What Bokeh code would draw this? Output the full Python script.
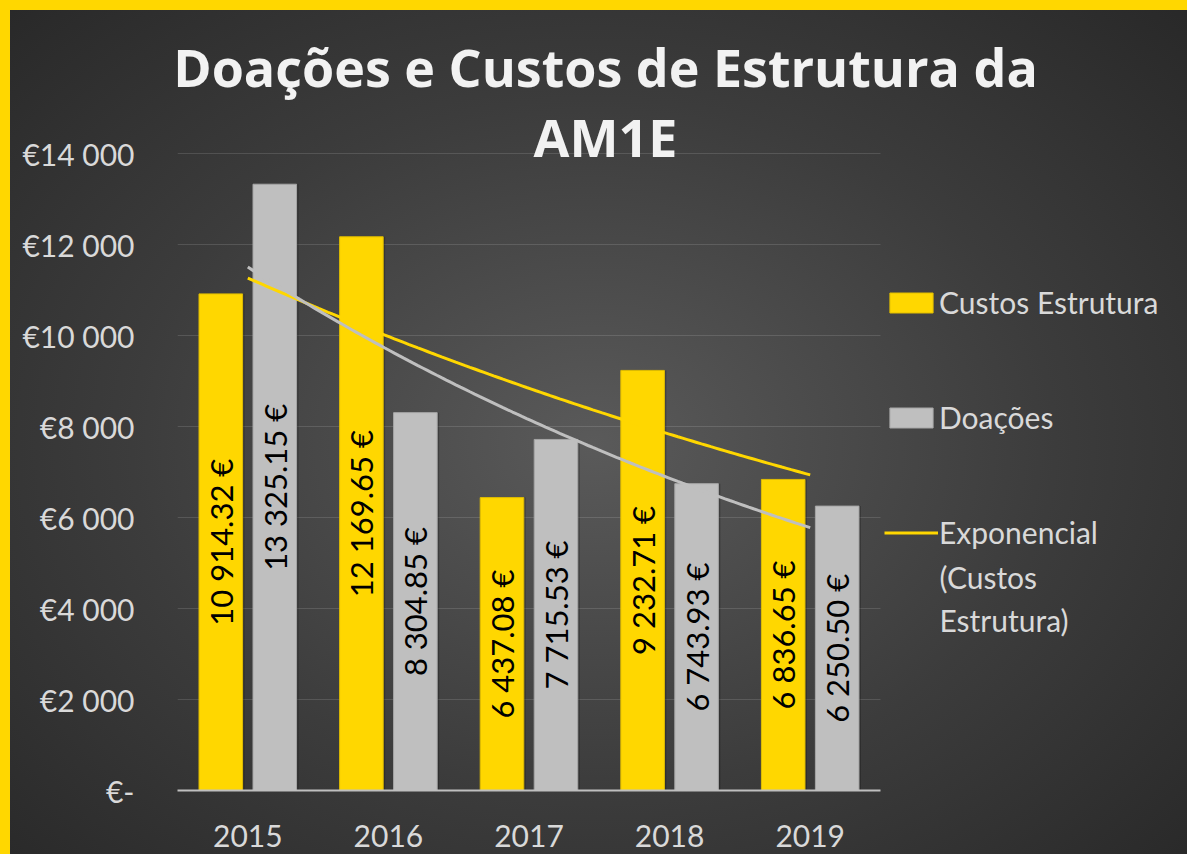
import numpy as np
from bokeh.plotting import figure
from bokeh.models import Range1d, Legend, LegendItem, Label, ColumnDataSource, FixedTicker
from bokeh.transform import dodge
from bokeh.embed import file_html
from bokeh.resources import INLINE
from bokeh.core.properties import value

# ---- data ----
years = ["2015", "2016", "2017", "2018", "2019"]
custos = [10914.32, 12169.65, 6437.08, 9232.71, 6836.65]
doacoes = [13325.15, 8304.85, 7715.53, 6743.93, 6250.50]
custos_labels = ["10 914.32 €", "12 169.65 €", "6 437.08 €", "9 232.71 €", "6 836.65 €"]
doacoes_labels = ["13 325.15 €", "8 304.85 €", "7 715.53 €", "6 743.93 €", "6 250.50 €"]
y_ticks = [0, 2000, 4000, 6000, 8000, 10000, 12000, 14000]
y_tick_labels = ["€-", "€2 000", "€4 000", "€6 000", "€8 000", "€10 000", "€12 000", "€14 000"]
title_lines = ["Doações e Custos de Estrutura da", "AM1E"]

YELLOW = "#FFD700"
GREY = "#BFBFBF"
TXT = "#D9D9D9"
FONT = "Lato"

# ---- layout (pixels) ----
W, H = 1187, 854
LEFT, PLOT_RIGHT, PLOT_TOP, BOTTOM = 177, 880, 153, 790
YMAX = 14000
n = len(years)

xpos = np.arange(1, n + 1)
off = 0.192
bw = 0.31

src = ColumnDataSource(dict(
    xc=xpos - off, xd=xpos + off,
    custos=custos, doacoes=doacoes,
    custos_mid=[v / 2 for v in custos], doacoes_mid=[v / 2 for v in doacoes],
    cl=custos_labels, dl=doacoes_labels,
))

# exponential trendlines (least squares on log values, as a spreadsheet does)
xt = np.linspace(1, n, 120)
bc = np.polyfit(xpos, np.log(custos), 1)
bd = np.polyfit(xpos, np.log(doacoes), 1)
trend_c = np.exp(np.polyval(bc, xt))
trend_d = np.exp(np.polyval(bd, xt))

# the frame spans the chart's plot area plus the title and legend areas
px_per_cat = (PLOT_RIGHT - LEFT) / n
x_end = 0.5 + (W - LEFT) / px_per_cat
y_end = YMAX * BOTTOM / (BOTTOM - PLOT_TOP)

p = figure(width=W, height=H, output_backend="svg", toolbar_location=None,
           x_range=Range1d(0.5, x_end), y_range=Range1d(0, y_end),
           min_border_left=LEFT, min_border_right=0,
           min_border_top=0, min_border_bottom=H - BOTTOM)
p.styles = {
    "background": "radial-gradient(ellipse farthest-corner at 50% 52%, #5a5a5a 0%, #3c3c3c 55%, #282828 100%)",
    "box-shadow": "inset 10px 10px 0 0 " + YELLOW,
}
p.background_fill_alpha = 0
p.border_fill_alpha = 0
p.outline_line_color = None
p.grid.grid_line_color = None

# gridlines limited to the plot area
p.segment(x0=0.5, x1=n + 0.5, y0=y_ticks[1:], y1=y_ticks[1:],
          line_color="white", line_alpha=0.13, line_width=1)

# axes
p.yaxis.ticker = FixedTicker(ticks=y_ticks)
p.yaxis.major_label_overrides = {t: l for t, l in zip(y_ticks, y_tick_labels)}
p.yaxis.axis_line_color = None
p.yaxis.major_tick_line_color = None
p.yaxis.minor_tick_line_color = None
p.yaxis.major_label_standoff = 37
p.yaxis.major_label_text_color = TXT
p.yaxis.major_label_text_font = FONT
p.yaxis.major_label_text_font_size = "30px"

p.xaxis.ticker = FixedTicker(ticks=list(xpos))
p.xaxis.major_label_overrides = {int(i): y for i, y in zip(xpos, years)}
p.xaxis.bounds = (0.5, n + 0.5)
p.xaxis.axis_line_color = "#BFBFBF"
p.xaxis.axis_line_width = 2
p.xaxis.major_tick_line_color = None
p.xaxis.minor_tick_line_color = None
p.xaxis.major_label_standoff = 28
p.xaxis.major_label_text_color = TXT
p.xaxis.major_label_text_font = FONT
p.xaxis.major_label_text_font_size = "30px"

# subtle bar shadows
for xcol, ycol in (("xc", "custos"), ("xd", "doacoes")):
    p.vbar(x=dodge(xcol, 0.014), top=ycol, width=bw, bottom=0, source=src,
           fill_color="black", fill_alpha=0.22, line_color=None)

r1 = p.vbar(x="xc", top="custos", width=bw, bottom=0, source=src,
            fill_color=YELLOW, line_color="#E0BD00", line_width=1)
r2 = p.vbar(x="xd", top="doacoes", width=bw, bottom=0, source=src,
            fill_color=GREY, line_color="#A6A6A6", line_width=1)

r3 = p.line(xt, trend_c, line_color=YELLOW, line_width=3)
p.line(xt, trend_d, line_color=GREY, line_width=3)

p.text(x="xc", y="custos_mid", text="cl", source=src, angle=np.pi / 2,
       text_align="center", text_baseline="middle", text_color="black",
       text_font=value(FONT), text_font_size="31px")
p.text(x="xd", y="doacoes_mid", text="dl", source=src, angle=np.pi / 2,
       text_align="center", text_baseline="middle", text_color="black",
       text_font=value(FONT), text_font_size="31px")

# title (two lines)
for line, cy in ((title_lines[0], 66), (title_lines[1], 136)):
    p.add_layout(Label(x=605 - LEFT, y=BOTTOM - cy, x_units="screen", y_units="screen",
                       text=line, text_align="center", text_baseline="middle",
                       text_color="#F2F2F2", text_font="Open Sans", text_font_style="bold",
                       text_font_size="52px"))

legend = Legend(items=[
    LegendItem(label="Custos Estrutura", renderers=[r1]),
    LegendItem(label="Doações", renderers=[r2]),
    LegendItem(label="Exponencial", renderers=[r3]),
], location=(884 - LEFT, BOTTOM - 553))
legend.glyph_width = 54
legend.glyph_height = 25
legend.label_standoff = 1
legend.spacing = 73
legend.padding = 0
legend.margin = 0
legend.border_line_color = None
legend.background_fill_alpha = 0
legend.label_text_color = TXT
legend.label_text_font = FONT
legend.label_text_font_size = "30px"
legend.label_height = 42
p.add_layout(legend, "center")
p.add_layout(Label(x=939 - LEFT, y=BOTTOM - 598, x_units="screen", y_units="screen",
                   text="(Custos\nEstrutura)", text_align="left", text_baseline="middle",
                   text_color=TXT, text_font=FONT, text_font_size="30px",
                   text_line_height=1.17))

open("out.html", "w").write(file_html(p, INLINE))
